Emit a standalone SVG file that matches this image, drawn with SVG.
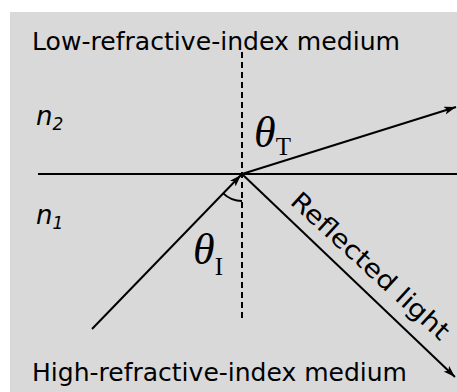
<svg xmlns="http://www.w3.org/2000/svg" width="457" height="392" viewBox="0 0 457 392">
<style>
.lbl{font-family:"DejaVu Sans","Liberation Sans",sans-serif;font-size:25px;fill:#000}
.it{font-family:"DejaVu Sans","Liberation Sans",sans-serif;font-style:italic;fill:#000}
.th{font-family:"Liberation Serif","DejaVu Serif",serif;fill:#000}
.ray{stroke:#000;stroke-width:2;fill:none}
</style>
<defs>
<marker id="ah" markerUnits="userSpaceOnUse" markerWidth="14" markerHeight="10" refX="12" refY="4" orient="auto">
<path d="M0,0 L12,4 L0,8 L3,4 z" fill="#000"/>
</marker>
</defs>
<rect x="0" y="0" width="457" height="392" fill="#fff"/>
<rect x="10" y="12" width="447" height="380" fill="#d9d9d9"/>
<g id="labels">
<text class="lbl" x="32" y="50" textLength="368" lengthAdjust="spacingAndGlyphs">Low-refractive-index medium</text>
<text class="lbl" x="32" y="381" textLength="375" lengthAdjust="spacingAndGlyphs">High-refractive-index medium</text>
<text class="it" x="36" y="125" font-size="26">n<tspan font-size="17" dy="5">2</tspan></text>
<text class="it" x="36" y="224" font-size="26">n<tspan font-size="17" dy="5">1</tspan></text>
<text class="th" x="254" y="147" font-size="44" font-style="italic">θ<tspan font-style="normal" font-size="25" dy="8">T</tspan></text>
<text class="th" x="193" y="264" font-size="44" font-style="italic">θ<tspan font-style="normal" font-size="25" dy="11">I</tspan></text>
<text class="lbl" x="0" y="0" font-size="28" textLength="205" lengthAdjust="spacingAndGlyphs" transform="translate(289,203) rotate(42.5)">Reflected light</text>
</g>
<g id="connectors">
<line class="ray" x1="38" y1="174" x2="457" y2="174"/>
<line class="ray" x1="242" y1="52" x2="242" y2="318" stroke-dasharray="6,4"/>
<line class="ray" x1="92" y1="329" x2="241" y2="175" marker-end="url(#ah)"/>
<line class="ray" x1="242" y1="174" x2="456" y2="107" marker-end="url(#ah)"/>
<line class="ray" x1="242" y1="174" x2="455" y2="377" stroke-width="1.6" marker-end="url(#ah)"/>
<path class="ray" d="M223.2,193.4 A27,27 0 0 0 242,201" stroke-width="1.6"/>
</g>
</svg>
